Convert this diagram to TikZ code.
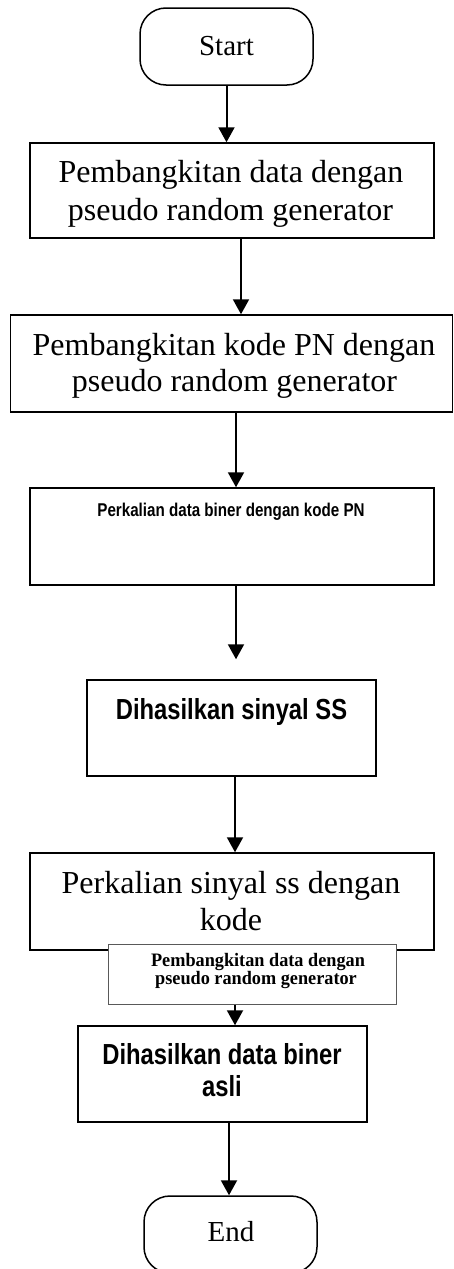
\documentclass[tikz,border=0pt]{standalone}
\usepackage{fontspec}
\setmainfont{Liberation Serif}
\newfontfamily\nsans[FakeStretch=0.82]{Liberation Sans}
\newfontfamily\sserif[FakeStretch=0.96]{Liberation Serif}
\usetikzlibrary{arrows.meta}
\begin{document}
\begin{tikzpicture}[x=1pt,y=-1pt,
  box/.style={draw, line width=1.5pt, inner sep=0pt, fill=white},
  term/.style={box, rounded corners=26pt},
  smallbox/.style={draw=black!65, line width=1pt, inner sep=0pt, fill=white},
  arr/.style={line width=2pt, -{Triangle[width=16pt,length=15pt]}},
  ser/.style={inner sep=0pt, anchor=base, font=\fontsize{32}{37}\selectfont},
  terml/.style={inner sep=0pt, anchor=base, font=\fontsize{29}{34}\selectfont},
  nsb/.style={inner sep=0pt, anchor=base, font=\nsans\bfseries\fontsize{29}{34}\selectfont},
  nss/.style={inner sep=0pt, anchor=base, font=\nsans\bfseries\fontsize{18.5}{22}\selectfont},
  tiny/.style={inner sep=0pt, anchor=base, font=\sserif\bfseries\fontsize{19}{19}\selectfont}]
\useasboundingbox (0,0) rectangle (453,1269);
\clip (0,0) rectangle (453,1269);
% shapes
\node[term, minimum width=173pt, minimum height=77pt] (st) at (226.5,46.5) {};
\node[box, minimum width=404pt, minimum height=95pt] (b1) at (232,190.5) {};
\node[box, minimum width=442pt, minimum height=97pt] (b2) at (231.5,363.5) {};
\node[box, minimum width=404pt, minimum height=97pt] (b3) at (232,536.5) {};
\node[box, minimum width=289pt, minimum height=96pt] (b4) at (231.5,728) {};
\node[box, minimum width=404pt, minimum height=97pt] (b5) at (232,901.5) {};
\node[smallbox, minimum width=288pt, minimum height=60pt] (sb) at (252,974) {};
\node[box, minimum width=289pt, minimum height=96pt] (b6) at (222.5,1074) {};
\node[term, minimum width=173pt, minimum height=77pt] (en) at (230.5,1234.5) {};
% texts
\node[terml] (tst) at (226.5,55) {Start};
\node[ser] (t1a) at (231,182.7) {Pembangkitan data dengan};
\node[ser] (t1b) at (230.5,220) {pseudo random generator};
\node[ser] (t2a) at (234,355) {Pembangkitan kode PN dengan};
\node[ser] (t2b) at (234.5,391.7) {pseudo random generator};
\node[nss] (t3) at (231,516.7) {Perkalian data biner dengan kode PN};
\node[nsb] (t4) at (231.5,719) {Dihasilkan sinyal SS};
\node[ser] (t5a) at (231,893) {Perkalian sinyal ss dengan};
\node[ser] (t5b) at (231,930) {kode};
\node[tiny] (tsa) at (258,966) {Pembangkitan data dengan};
\node[tiny] (tsb) at (256,984) {pseudo random generator};
\node[nsb] (t6a) at (222,1064) {Dihasilkan data biner};
\node[nsb] (t6b) at (222,1096.7) {asli};
\node[terml] (ten) at (231,1241.7) {End};
% connectors
\coordinate (a4end) at ([xshift=4.5pt,yshift=20pt]b4.north);
\draw[arr] (st.south) -- (st.south |- b1.north);
\draw[arr] ([xshift=9pt]b1.south) -- ([xshift=9pt]b1.south |- b2.north);
\draw[arr] ([xshift=4.5pt]b2.south) -- ([xshift=4.5pt]b2.south |- b3.north);
\draw[arr] ([xshift=4pt]b3.south) -- (a4end);
\draw[arr] ([xshift=3.5pt]b4.south) -- ([xshift=3.5pt]b4.south |- b5.north);
\draw[arr] ([xshift=-17pt]sb.south) -- ([xshift=-17pt]sb.south |- b6.north);
\draw[arr] ([xshift=6.5pt]b6.south) -- ([xshift=6.5pt]b6.south |- en.north);
\end{tikzpicture}
\end{document}
